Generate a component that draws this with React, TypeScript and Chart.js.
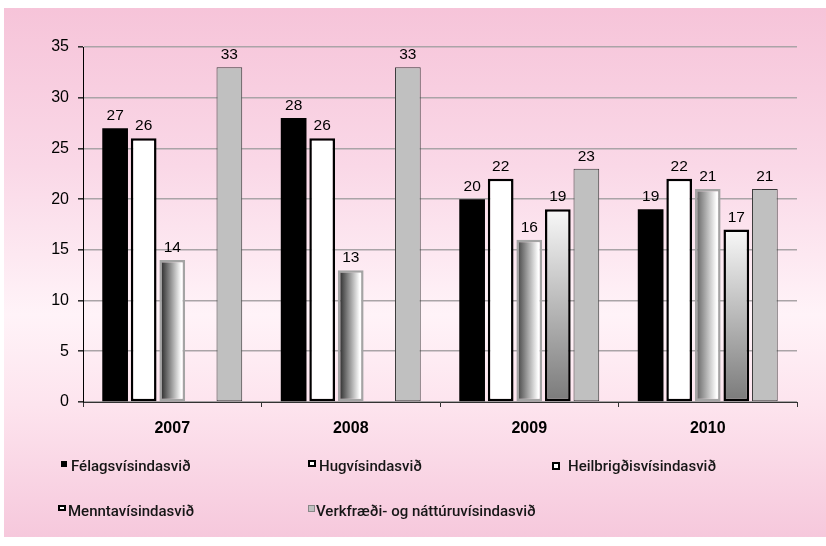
import React, { useEffect, useRef } from "react";
import { Chart, registerables } from "chart.js";

Chart.register(...registerables);

const categories = ["2007", "2008", "2009", "2010"];
const seriesNames = [
  "Félagsvísindasvið",
  "Hugvísindasvið",
  "Heilbrigðisvísindasvið",
  "Menntavísindasvið",
  "Verkfræði- og náttúruvísindasvið",
];
const felagsValues = [27, 28, 20, 19];
const hugValues = [26, 26, 22, 22];
const heilbrValues = [14, 13, 16, 21];
const menntaValues: (number | null)[] = [null, null, 19, 17];
const verkfrValues = [33, 33, 23, 21];
const yTickValues = [0, 5, 10, 15, 20, 25, 30, 35];

const CAT_PCT = 0.8;
const BAR_PCT = 0.9;
const N_SERIES = 5;
const HEILBR_DARK = ["#1c1c1c", "#1c1c1c", "#3c3c3c", "#5a5a5a"];

function barBounds(ctx: any) {
  const el = ctx.element;
  if (el && isFinite(el.x) && isFinite(el.width) && el.width > 0) {
    return [el.x - el.width / 2, el.x + el.width / 2];
  }
  const chart = ctx.chart;
  const x = chart.scales.x;
  const catW = (x.right - x.left) / categories.length;
  const center = x.getPixelForValue(ctx.dataIndex);
  const slot = (catW * CAT_PCT) / N_SERIES;
  const bc = center + (ctx.datasetIndex - (N_SERIES - 1) / 2) * slot;
  const w = slot * BAR_PCT;
  return [bc - w / 2, bc + w / 2];
}

const heilbrFill = (ctx: any) => {
  const chart = ctx.chart;
  if (ctx.type !== "data" || !chart.scales || !chart.scales.x) return "#888";
  const [l, r] = barBounds(ctx);
  if (!isFinite(l) || !isFinite(r)) return "#888";
  const g = chart.ctx.createLinearGradient(l, 0, r, 0);
  g.addColorStop(0, HEILBR_DARK[ctx.dataIndex] || "#555");
  g.addColorStop(0.85, "#ffffff");
  g.addColorStop(1, "#f4f4f4");
  return g;
};

const menntaFill = (ctx: any) => {
  const chart = ctx.chart;
  if (ctx.type !== "data" || !chart.scales || !chart.scales.y) return "#bbb";
  const v = ctx.raw;
  if (v == null) return "#bbb";
  const y = chart.scales.y;
  const top = y.getPixelForValue(v);
  const bottom = y.getPixelForValue(0);
  if (!isFinite(top) || !isFinite(bottom)) return "#bbb";
  const g = chart.ctx.createLinearGradient(0, top, 0, bottom);
  g.addColorStop(0, "#f8f8f8");
  g.addColorStop(1, "#7a7a7a");
  return g;
};

const valueLabels = {
  id: "valueLabels",
  afterDatasetsDraw(chart: any) {
    const c = chart.ctx;
    c.save();
    c.font = '15.5px "Liberation Sans", Arial, sans-serif';
    c.fillStyle = "#000";
    c.textAlign = "center";
    c.textBaseline = "alphabetic";
    chart.data.datasets.forEach((ds: any, i: number) => {
      const meta = chart.getDatasetMeta(i);
      meta.data.forEach((el: any, j: number) => {
        const v = ds.data[j];
        if (v == null) return;
        c.fillText(String(v), el.x, el.y - 8);
      });
    });
    c.restore();
  },
};

type LegendItem = {
  name: string;
  mx: number;
  my: number;
  mw: number;
  mh: number;
  fill: string;
  border: string;
  bw: number;
  tx: number;
  ty: number;
};

const legendItems: LegendItem[] = [
  { name: seriesNames[0], mx: 61, my: 461, mw: 6, mh: 6, fill: "#000", border: "#000", bw: 0, tx: 71, ty: 457 },
  { name: seriesNames[1], mx: 308, my: 460, mw: 8, mh: 7, fill: "#fff", border: "#000", bw: 2, tx: 319, ty: 457 },
  { name: seriesNames[2], mx: 552, my: 462, mw: 8, mh: 8, fill: "#fff", border: "#000", bw: 2.5, tx: 568, ty: 457 },
  { name: seriesNames[3], mx: 58, my: 505, mw: 8, mh: 6, fill: "#fff", border: "#000", bw: 2, tx: 68, ty: 502 },
  { name: seriesNames[4], mx: 308, my: 505, mw: 7, mh: 7, fill: "#c0c0c0", border: "#888", bw: 1, tx: 316, ty: 502 },
];

export default function App() {
  const canvasRef = useRef<HTMLCanvasElement>(null);

  useEffect(() => {
    if (!canvasRef.current) return;
    const chart = new Chart(canvasRef.current, {
      type: "bar",
      data: {
        labels: categories,
        datasets: [
          {
            label: seriesNames[0],
            data: felagsValues,
            backgroundColor: "#000000",
            borderColor: "#000000",
            borderWidth: 0,
          },
          {
            label: seriesNames[1],
            data: hugValues,
            backgroundColor: "#ffffff",
            borderColor: "#000000",
            borderWidth: 2.5,
            borderSkipped: false,
          },
          {
            label: seriesNames[2],
            data: heilbrValues,
            backgroundColor: heilbrFill,
            borderColor: "#a4a4a4",
            borderWidth: 2.5,
            borderSkipped: false,
          },
          {
            label: seriesNames[3],
            data: menntaValues,
            backgroundColor: menntaFill,
            borderColor: "#000000",
            borderWidth: 2.5,
            borderSkipped: false,
          },
          {
            label: seriesNames[4],
            data: verkfrValues,
            backgroundColor: "#c0c0c0",
            borderColor: "#3a3a3a",
            borderWidth: 1,
            borderSkipped: false,
          },
        ] as any,
      },
      options: {
        animation: false,
        responsive: false,
        maintainAspectRatio: false,
        devicePixelRatio: 1,
        layout: { padding: { left: 0, top: 47, right: 29, bottom: 0 } },
        datasets: {
          bar: { categoryPercentage: CAT_PCT, barPercentage: BAR_PCT },
        },
        plugins: {
          legend: { display: false },
          tooltip: { enabled: false },
          title: { display: false },
        },
        scales: {
          x: {
            offset: true,
            grid: {
              offset: true,
              drawOnChartArea: false,
              drawTicks: true,
              tickLength: 5,
              color: "#333",
            },
            border: { display: true, color: "#333", width: 1 },
            ticks: {
              color: "#000",
              padding: 12,
              font: { family: '"Liberation Sans", Arial, sans-serif', size: 16, weight: "bold" },
            },
            afterFit: (scale: any) => {
              scale.height = 144;
            },
          },
          y: {
            min: 0,
            max: 35,
            afterBuildTicks: (scale: any) => {
              scale.ticks = yTickValues.map((v) => ({ value: v }));
            },
            grid: {
              color: "#aaa4a7",
              lineWidth: 1.6,
              tickLength: 5,
              tickColor: "#333",
            },
            border: { display: true, color: "#000", width: 1 },
            ticks: {
              color: "#000",
              padding: 9,
              font: { family: '"Liberation Sans", Arial, sans-serif', size: 16 },
            },
            afterFit: (scale: any) => {
              scale.width = 83;
            },
          },
        },
      } as any,
      plugins: [valueLabels],
    });
    chart.update();
    return () => chart.destroy();
  }, []);

  return (
    <div style={{ position: "absolute", left: 0, top: 0, width: 826, height: 546, background: "#ffffff" }}>
      <div
        style={{
          position: "absolute",
          left: 4,
          top: 8,
          width: 822,
          height: 529,
          background:
            "linear-gradient(to bottom, #f6c4d9 0%, #fad8e7 30%, #fff3f8 58%, #fde4ee 75%, #f6c8dc 100%)",
        }}
      />
      <canvas
        ref={canvasRef}
        width={826}
        height={546}
        style={{ position: "absolute", left: 0, top: 0, width: 826, height: 546 }}
      />
      {legendItems.map((it) => (
        <React.Fragment key={it.name}>
          <div
            style={{
              position: "absolute",
              left: it.mx,
              top: it.my,
              width: it.mw,
              height: it.mh,
              boxSizing: "border-box",
              background: it.fill,
              border: it.bw ? `${it.bw}px solid ${it.border}` : "none",
            }}
          />
          <div
            style={{
              position: "absolute",
              left: it.tx,
              top: it.ty,
              fontFamily: "Roboto, 'Noto Sans', sans-serif",
              fontSize: 15,
              fontWeight: 500,
              lineHeight: "18px",
              color: "#161616",
              whiteSpace: "nowrap",
            }}
          >
            {it.name}
          </div>
        </React.Fragment>
      ))}
    </div>
  );
}
